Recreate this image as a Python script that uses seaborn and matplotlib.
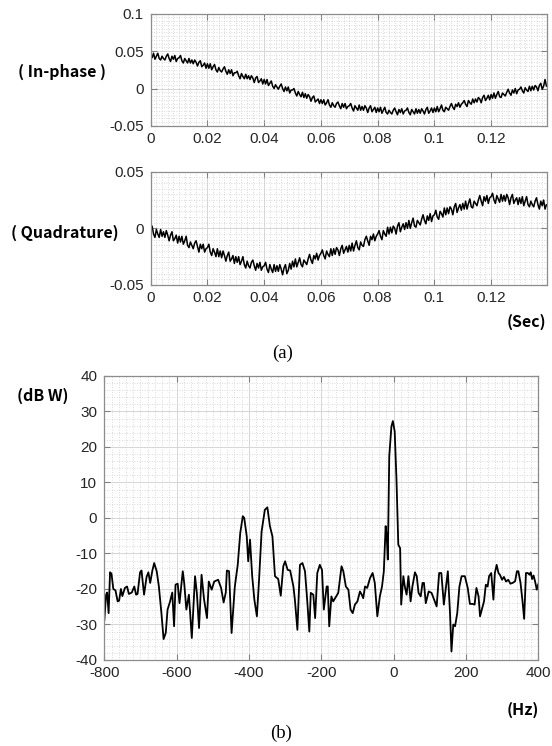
import matplotlib
matplotlib.use("Agg")
import matplotlib.pyplot as plt
from matplotlib.ticker import MultipleLocator, FuncFormatter
import numpy as np
import pandas as pd
import seaborn as sns

sns.set_theme(style="white")
plt.rcParams["font.family"] = ["Liberation Sans", "DejaVu Sans"]

# sampling period of the baseband record (s)
SAMPLE_PERIOD = 0.0005

# in-phase channel, values in units of 1e-3
in_phase_milli = [
    46, 41, 47, 39, 43, 47, 40, 38, 43, 40,
    38, 43, 46, 40, 36, 43, 39, 44, 36, 40,
    41, 44, 37, 34, 40, 37, 34, 40, 34, 38,
    33, 38, 35, 30, 35, 37, 29, 31, 34, 27,
    33, 27, 33, 25, 29, 32, 25, 22, 28, 24,
    22, 26, 29, 23, 19, 25, 20, 25, 17, 21,
    21, 23, 17, 13, 20, 16, 13, 19, 13, 17,
    12, 17, 14, 8, 14, 16, 8, 10, 13, 6,
    12, 6, 12, 4, 7, 10, 3, 0, 5, 2,
    -1, 3, 6, 0, -4, 2, -3, 2, -6, -2,
    -2, 0, -6, -10, -4, -8, -11, -5, -12, -7,
    -13, -8, -11, -17, -12, -10, -18, -16, -14, -20,
    -15, -20, -15, -22, -19, -15, -22, -25, -19, -23,
    -25, -20, -18, -23, -27, -20, -25, -20, -27, -24,
    -23, -20, -26, -30, -23, -26, -29, -22, -29, -24,
    -29, -23, -26, -32, -26, -23, -31, -28, -25, -32,
    -26, -31, -25, -33, -29, -25, -32, -34, -29, -32,
    -34, -29, -26, -31, -35, -28, -32, -27, -34, -30,
    -29, -26, -32, -35, -28, -31, -34, -27, -33, -28,
    -33, -27, -30, -34, -28, -25, -33, -30, -26, -32,
    -26, -31, -24, -31, -27, -22, -29, -31, -25, -27,
    -29, -24, -20, -25, -28, -21, -24, -19, -25, -21,
    -19, -16, -21, -24, -16, -19, -21, -14, -19, -14,
    -18, -12, -14, -19, -12, -9, -16, -13, -9, -15,
    -8, -13, -6, -13, -8, -4, -11, -12, -6, -8,
    -10, -5, -1, -6, -9, -2, -6, 0, -7, -2,
    -1, 2, -3, -6, 1, -2, -4, 3, -3, 3,
    -2, 4, 2, -3, 4, 7, -1, 3, 12, 3,
]

# quadrature channel, values in units of 1e-3
quadrature_milli = [
    -1, 2, -5, -8, -1, -5, -8, -1, -7, -3,
    -8, -2, -6, -11, -6, -3, -11, -9, -6, -13,
    -7, -12, -7, -14, -11, -7, -15, -17, -12, -15,
    -18, -13, -11, -16, -21, -14, -18, -14, -21, -18,
    -17, -14, -21, -24, -18, -21, -25, -18, -25, -20,
    -26, -20, -24, -29, -24, -21, -29, -27, -24, -31,
    -25, -30, -25, -32, -29, -25, -32, -35, -29, -33,
    -35, -30, -28, -33, -37, -31, -35, -30, -37, -34,
    -33, -30, -36, -39, -32, -36, -39, -32, -38, -33,
    -38, -32, -36, -41, -35, -32, -40, -37, -31, -36,
    -29, -34, -27, -34, -30, -26, -32, -34, -28, -30,
    -32, -27, -23, -28, -31, -24, -27, -22, -28, -24,
    -22, -19, -24, -27, -20, -23, -25, -18, -24, -18,
    -23, -17, -19, -24, -18, -15, -22, -19, -16, -21,
    -15, -20, -13, -20, -15, -11, -17, -19, -12, -15,
    -16, -10, -7, -11, -15, -7, -10, -5, -11, -7,
    -5, -2, -7, -10, -2, -5, -7, 1, -5, 1,
    -4, 2, 0, -5, 2, 5, -3, 1, 4, -1,
    5, 0, 7, 0, 5, 9, 2, 1, 7, 5,
    3, 8, 12, 7, 4, 11, 7, 13, 6, 11,
    12, 16, 10, 8, 15, 13, 10, 18, 12, 18,
    13, 19, 17, 12, 19, 22, 14, 18, 21, 16,
    22, 17, 24, 17, 22, 26, 19, 18, 24, 22,
    20, 25, 29, 24, 20, 28, 24, 29, 22, 27,
    28, 31, 25, 22, 29, 26, 23, 30, 24, 29,
    24, 30, 27, 21, 27, 30, 22, 25, 27, 21,
    27, 22, 28, 20, 24, 28, 21, 19, 24, 21,
    19, 24, 27, 21, 17, 24, 20, 25, 17, 21,
]

# spectrum
spec_freq_hz = [
    -800, -795, -792, -788, -784, -780, -775, -769, -763, -759,
    -754, -750, -743, -737, -732, -724, -717, -712, -708, -701,
    -697, -690, -683, -678, -673, -667, -662, -655, -649, -642,
    -636, -630, -625, -618, -612, -607, -603, -597, -592, -583,
    -579, -573, -566, -558, -549, -544, -538, -531, -524, -516,
    -511, -503, -496, -485, -477, -470, -464, -461, -455, -448,
    -439, -431, -424, -417, -413, -406, -402, -397, -391, -385,
    -378, -372, -365, -356, -349, -342, -335, -328, -319, -312,
    -305, -300, -293, -286, -277, -273, -266, -259, -252, -245,
    -239, -233, -229, -222, -217, -211, -204, -198, -193, -185,
    -182, -178, -172, -167, -159, -153, -144, -139, -132, -125,
    -119, -113, -107, -100, -93, -88, -84, -79, -73, -65,
    -58, -52, -45, -38, -32, -27, -22, -19, -16, -12,
    -6, -2, 3, 8, 13, 18, 21, 27, 31, 36,
    41, 47, 52, 59, 64, 69, 75, 80, 84, 89,
    97, 105, 114, 119, 126, 132, 139, 145, 150, 156,
    160, 165, 170, 176, 182, 188, 197, 205, 211, 218,
    224, 229, 235, 239, 244, 250, 255, 260, 264, 270,
    276, 280, 285, 290, 294, 300, 305, 311, 317, 323,
    329, 336, 341, 345, 351, 356, 361, 366, 371, 376,
    379, 383, 387, 391, 396, 400,
]
spec_power_db = [
    -29, -21.6, -21, -26.8, -15.3, -15.7, -20, -20.4, -23.5, -23.3,
    -20, -22, -19.7, -19.3, -21.4, -21, -19.3, -21.6, -21.4, -15.3,
    -14.8, -21.6, -16.6, -15.3, -18.3, -14.8, -12.7, -15, -19.3, -26.8,
    -34.1, -32.4, -25.8, -23.5, -21, -30.5, -18.8, -18.5, -24, -15,
    -18.3, -25.8, -21.6, -33.8, -16.4, -21.1, -31, -16, -23, -28.2,
    -17.9, -20.2, -17.9, -17.4, -19.7, -23.8, -21, -14.8, -15, -32.4,
    -19.3, -13.2, -4.2, 0.5, 0, -5.2, -12.2, -6.1, -16.4, -23,
    -27.7, -17.4, -3.8, 2.3, 3, -2.3, -5.2, -16.4, -17.2, -21.9,
    -13.6, -12.2, -14.6, -14.8, -19.3, -23, -31.5, -13.2, -12.7, -15,
    -23, -32, -21.1, -21.6, -28.2, -15.5, -13.2, -14.6, -25.8, -19.3,
    -19.3, -30.5, -22.1, -23.5, -22.1, -21.1, -13.6, -15, -19.3, -20.2,
    -25.8, -26.8, -24.4, -23.5, -20.7, -21.6, -22.6, -19.3, -19.7, -16.9,
    -15.5, -18.3, -27.7, -22.1, -19.3, -15, -2.3, -5.2, -11.7, 17.4,
    25.8, 27.3, 24.4, 10.8, -7.5, -8.5, -24.4, -16.4, -19.3, -21.6,
    -16.4, -23.5, -19.3, -15.3, -16.4, -21.1, -22.1, -18.3, -18.3, -24,
    -20.7, -21.1, -23.5, -24.9, -15.5, -15.5, -24.4, -19.3, -15, -26.8,
    -37.6, -30, -30.5, -26.8, -19.3, -16.4, -16.4, -19.7, -24.2, -24.2,
    -24.4, -19.7, -22.1, -27.7, -25.8, -23.5, -18.8, -19.3, -16.4, -15.5,
    -23, -15.5, -13.2, -15.5, -16, -17.4, -16.6, -17.9, -17.4, -18.5,
    -18.3, -17.8, -15, -15, -18.3, -23, -28.4, -15.5, -15.5, -16,
    -15.3, -17.2, -16.2, -17.8, -20.2, -18.6,
]

TIME_LIMITS = (0, 0.1398)
FREQ_LIMITS = (-800, 400)
DB_LIMITS = (-40, 40)

LABEL_FONT = ["Noto Sans CJK KR", "DejaVu Sans"]
CAPTION_FONT = ["Liberation Serif", "DejaVu Serif"]


def tick_format(value, pos):
    return f"{round(value, 6) + 0:g}"


def style_axes(ax, major_x, minor_x, major_y, minor_y):
    ax.xaxis.set_major_locator(MultipleLocator(major_x))
    ax.xaxis.set_minor_locator(MultipleLocator(minor_x))
    ax.yaxis.set_major_locator(MultipleLocator(major_y))
    ax.yaxis.set_minor_locator(MultipleLocator(minor_y))
    ax.xaxis.set_major_formatter(FuncFormatter(tick_format))
    ax.yaxis.set_major_formatter(FuncFormatter(tick_format))

    ax.grid(which="major", color="#d6d6d6", linewidth=0.7, linestyle="-")
    ax.grid(which="minor", color="#cfcfcf", linewidth=0.6, linestyle=(0, (1, 2)))
    ax.set_axisbelow(True)

    ax.tick_params(which="major", direction="in", length=4, width=0.8,
                   top=True, right=True, bottom=True, left=True,
                   color="#808080", labelsize=11, labelcolor="#262626")
    ax.tick_params(axis="y", which="major", pad=5)
    ax.tick_params(axis="x", which="major", pad=4)
    ax.tick_params(which="minor", length=0)

    for spine in ax.spines.values():
        spine.set_visible(True)
        spine.set_color("#8c8c8c")
        spine.set_linewidth(0.9)

    ax.set_xlabel("")
    ax.set_ylabel("")


fig = plt.figure(figsize=(5.52, 7.46), dpi=100)
fig.patch.set_facecolor("white")

ax_i = fig.add_axes([0.2730, 0.8311, 0.7185, 0.1508])
ax_q = fig.add_axes([0.2730, 0.6180, 0.7185, 0.1518])
ax_s = fig.add_axes([0.1889, 0.1153, 0.7862, 0.3807])

time_s = np.arange(len(in_phase_milli)) * SAMPLE_PERIOD
iq_df = pd.DataFrame({
    "time": time_s,
    "in_phase": np.array(in_phase_milli) / 1000.0,
    "quadrature": np.array(quadrature_milli) / 1000.0,
})
spec_df = pd.DataFrame({"freq": spec_freq_hz, "power": spec_power_db})

sns.lineplot(data=iq_df, x="time", y="in_phase", ax=ax_i, color="black",
             linewidth=1.1, estimator=None, errorbar=None, sort=False)
ax_i.set_xlim(*TIME_LIMITS)
ax_i.set_ylim(-0.05, 0.1)
style_axes(ax_i, 0.02, 0.002, 0.05, 0.005)

sns.lineplot(data=iq_df, x="time", y="quadrature", ax=ax_q, color="black",
             linewidth=1.1, estimator=None, errorbar=None, sort=False)
ax_q.set_xlim(*TIME_LIMITS)
ax_q.set_ylim(-0.05, 0.05)
style_axes(ax_q, 0.02, 0.002, 0.05, 0.005)

sns.lineplot(data=spec_df, x="freq", y="power", ax=ax_s, color="black",
             linewidth=1.3, estimator=None, errorbar=None, sort=False)
ax_s.set_xlim(*FREQ_LIMITS)
ax_s.set_ylim(*DB_LIMITS)
style_axes(ax_s, 200, 20, 10, 2)

fig.text(0.112, 0.9035, "( In-phase )", family=LABEL_FONT, fontweight="bold",
         fontsize=11.5, ha="center", va="center", color="black")
fig.text(0.118, 0.6877, "( Quadrature)", family=LABEL_FONT, fontweight="bold",
         fontsize=11.5, ha="center", va="center", color="black")
fig.text(0.989, 0.5684, "(Sec)", family=LABEL_FONT, fontweight="bold",
         fontsize=11.5, ha="right", va="center", color="black")
fig.text(0.511, 0.527, "(a)", family=CAPTION_FONT, fontsize=13.5,
         ha="center", va="center", color="black")
fig.text(0.078, 0.469, "(dB W)", family=LABEL_FONT, fontweight="bold",
         fontsize=11.5, ha="center", va="center", color="black")
fig.text(0.976, 0.048, "(Hz)", family=LABEL_FONT, fontweight="bold",
         fontsize=11.5, ha="right", va="center", color="black")
fig.text(0.509, 0.0174, "(b)", family=CAPTION_FONT, fontsize=13.5,
         ha="center", va="center", color="black")

fig.savefig("out.png", dpi=100)
